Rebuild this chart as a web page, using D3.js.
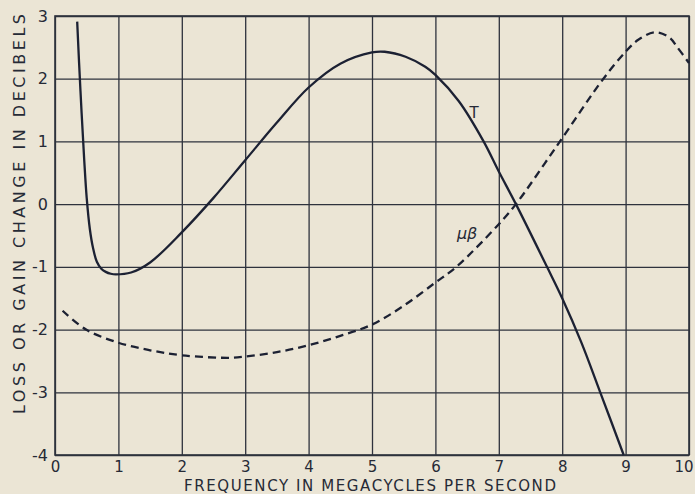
<!DOCTYPE html>
<html>
<head>
<meta charset="utf-8">
<script src="https://cdn.jsdelivr.net/npm/d3@7"></script>
<style>
  html, body { margin: 0; padding: 0; background: #ebe5d5; }
  svg { display: block; }
  text { font-family: "DejaVu Sans", sans-serif; fill: #262a36; }
</style>
</head>
<body>
<div id="chart"></div>
<script>
// transmission curve T (solid)
const tFreq = [0.35, 0.38, 0.42, 0.46, 0.5, 0.55, 0.6, 0.66, 0.73, 0.8, 0.88, 0.96, 1.2, 1.5, 2.0, 2.5, 3.0, 3.5, 4.0, 4.5, 5.0, 5.2, 5.53, 5.84, 6.0, 6.37, 6.76, 7.0, 7.27, 7.76, 8.0, 8.3, 8.6, 8.97];
const tGain = [2.91, 2.25, 1.45, 0.72, 0.1, -0.4, -0.7, -0.92, -1.03, -1.08, -1.11, -1.12, -1.09, -0.93, -0.45, 0.1, 0.7, 1.3, 1.86, 2.24, 2.42, 2.43, 2.35, 2.19, 2.06, 1.64, 1.0, 0.52, 0.0, -1.0, -1.5, -2.2, -3.0, -4.0];

// feedback curve mu-beta (dashed)
const mbFreq = [0.12, 0.49, 1.0, 1.5, 2.0, 2.75, 3.0, 3.5, 4.0, 4.5, 5.0, 5.5, 6.0, 6.33, 7.0, 7.27, 7.93, 8.65, 9.0, 9.2, 9.47, 9.7, 9.81, 10.0];
const mbGain = [-1.70, -2.0, -2.21, -2.33, -2.41, -2.45, -2.43, -2.36, -2.25, -2.1, -1.92, -1.62, -1.25, -1.0, -0.32, 0.0, 0.95, 2.0, 2.43, 2.62, 2.74, 2.65, 2.51, 2.25];

const xTicks = [0, 1, 2, 3, 4, 5, 6, 7, 8, 9, 10];
const yTicks = [-4, -3, -2, -1, 0, 1, 2, 3];

const width = 695, height = 494;
const margin = { top: 16, right: 6, bottom: 39, left: 55 };

const svg = d3.select('#chart').append('svg')
    .attr('width', width)
    .attr('height', height);

const x = d3.scaleLinear().domain([0, 10]).range([margin.left, width - margin.right]);
const y = d3.scaleLinear().domain([-4, 3]).range([height - margin.bottom, margin.top]);

const gridColor = '#2e323d';
const inkColor = '#1c2133';

// grid + x labels
const xAxis = svg.append('g')
    .attr('transform', `translate(0,${y(-4)})`)
    .call(d3.axisBottom(x).tickValues(xTicks).tickSize(-(y(-4) - y(3))).tickPadding(6).tickFormat(d3.format('d')));
xAxis.select('.domain').remove();
xAxis.selectAll('line').attr('stroke', gridColor).attr('stroke-width', 1.3);
xAxis.selectAll('text').attr('font-size', 15).attr('fill', '#262a36').attr('font-family', '"DejaVu Sans", sans-serif');
// last label sits against the right edge
xAxis.selectAll('.tick').filter(d => d === 10).select('text')
    .attr('text-anchor', 'end').attr('x', width - 2 - x(10));

// grid + y labels
const yAxis = svg.append('g')
    .attr('transform', `translate(${x(0)},0)`)
    .call(d3.axisLeft(y).tickValues(yTicks).tickSize(-(x(10) - x(0))).tickPadding(7)
        .tickFormat(d => d < 0 ? '-' + Math.abs(d) : String(d)));
yAxis.select('.domain').remove();
yAxis.selectAll('line').attr('stroke', gridColor).attr('stroke-width', 1.3);
yAxis.selectAll('text').attr('font-size', 16).attr('fill', '#262a36').attr('font-family', '"DejaVu Sans", sans-serif');

// frame
svg.append('rect')
    .attr('x', x(0)).attr('y', y(3))
    .attr('width', x(10) - x(0)).attr('height', y(-4) - y(3))
    .attr('fill', 'none').attr('stroke', gridColor).attr('stroke-width', 1.6);

const line = d3.line()
    .x(d => x(d[0]))
    .y(d => y(d[1]))
    .curve(d3.curveCatmullRom.alpha(0.5));

svg.append('path')
    .datum(tFreq.map((f, i) => [f, tGain[i]]))
    .attr('d', line)
    .attr('fill', 'none')
    .attr('stroke', inkColor)
    .attr('stroke-width', 2.3);

svg.append('path')
    .datum(mbFreq.map((f, i) => [f, mbGain[i]]))
    .attr('d', line)
    .attr('fill', 'none')
    .attr('stroke', inkColor)
    .attr('stroke-width', 2.3)
    .attr('stroke-dasharray', '8,5');

// curve labels
svg.append('text')
    .attr('x', x(6.61)).attr('y', y(1.38))
    .attr('text-anchor', 'middle')
    .attr('font-size', 15)
    .text('T');

svg.append('text')
    .attr('x', x(6.5)).attr('y', y(-0.55))
    .attr('text-anchor', 'middle')
    .attr('font-size', 16)
    .attr('font-style', 'italic')
    .text('μβ');

// axis titles
svg.append('text')
    .attr('x', 370).attr('y', 490.5)
    .attr('text-anchor', 'middle')
    .attr('font-size', 15)
    .attr('textLength', 372)
    .attr('lengthAdjust', 'spacing')
    .text('FREQUENCY IN MEGACYCLES PER SECOND');

svg.append('text')
    .attr('transform', 'translate(25,214) rotate(-90)')
    .attr('text-anchor', 'middle')
    .attr('font-size', 16)
    .attr('textLength', 400)
    .attr('lengthAdjust', 'spacing')
    .text('LOSS OR GAIN CHANGE IN DECIBELS');
</script>
</body>
</html>
